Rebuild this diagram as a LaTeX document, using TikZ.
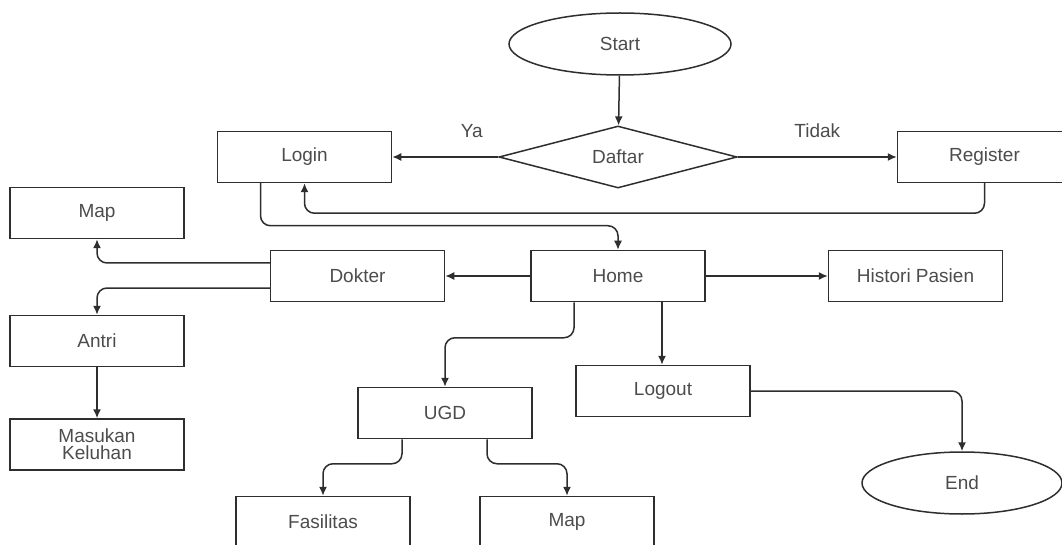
\documentclass[tikz,border=0pt]{standalone}
\usepackage{fontspec}
\setsansfont{Liberation Sans}
\usetikzlibrary{arrows.meta, shapes.geometric, positioning, calc}
\usepackage{xcolor}
\definecolor{LineGray}{rgb}{0.18, 0.18, 0.18}
\definecolor{TextGray}{rgb}{0.3, 0.3, 0.3}

\begin{document}
\begin{tikzpicture}[x=1pt, y=-1pt]\sffamily\fontsize{19}{17}\selectfont
	\tikzstyle{box} = [draw=LineGray, line width=1.5pt, rectangle, minimum width=174pt, minimum height=51pt, text=TextGray, align=center, inner sep=0pt]
	\tikzstyle{term} = [draw=LineGray, line width=1.5pt, ellipse, minimum height=62pt, text=TextGray, inner sep=0pt]
	\tikzstyle{decide} = [draw=LineGray, line width=1.5pt, diamond, aspect=3.8, minimum width=238pt, minimum height=62pt, text=TextGray, inner sep=0pt]
	\tikzstyle{arr} = [-{Latex[length=9pt, width=8pt]}, draw=LineGray, line width=1.5pt, rounded corners=10pt]
	\useasboundingbox (0,0) rectangle (1062,545);
	\clip (0,0) rectangle (1062,545);
	
	\node[term, minimum width=222pt] (start) at (620,44) {Start};
	\node[decide] (daftar) at (618,157) {Daftar};
	\node[box, left=106pt of daftar] (login) {Login};
	\node[box, right=159pt of daftar] (register) {Register};
	\node[box] (home) at (618,276) {Home};
	\node[box, left=85pt of home] (dokter) {Dokter};
	\node[box, right=122pt of home] (histori) {Histori Pasien};
	\node[box] (map) at (97,213) {Map};
	\node[box] (antri) at (97,341) {Antri};
	\node[box, below=51pt of antri] (keluhan) {Masukan\\Keluhan};
	\node[box] (ugd) at (445,413) {UGD};
	\node[box] (logout) at (663,391) {Logout};
	\node[term, minimum width=200pt] (end) at (962,483) {End};
	\node[box] (fasilitas) at (323,522) {Fasilitas};
	\node[box] (mapugd) at (567,522) {Map};
	
	\draw[arr] (start) to (daftar);
	\draw[arr] (daftar) -- node[pos=0.25, above=12pt, text=TextGray] (ya) {Ya} (login);
	\draw[arr] (daftar) -- node[midway, above=12pt, text=TextGray] (tidak) {Tidak} (register);
	\draw[arr] (register.south) |- ([yshift=-30pt]login.south) -- (login.south);
	\draw[arr] ([xshift=-44pt]login.south) |- ([yshift=24pt]home.north) -- (home.north);
	\draw[arr] (home) to (dokter);
	\draw[arr] (home) to (histori);
	\draw[arr] ([yshift=13pt]dokter.west) -| (map.south);
	\draw[arr] ([yshift=-12pt]dokter.west) -| (antri.north);
	\draw[arr] (antri) to (keluhan);
	\draw[arr] ([xshift=-44pt]home.south) |- ([yshift=49pt]ugd.north) -- (ugd.north);
	\draw[arr] ([xshift=44pt]home.south) -- ([xshift=44pt]home.south |- logout.north);
	\draw[arr] (logout.east) -| (end.north);
	\draw[arr] ([xshift=-43pt]ugd.south) |- ([yshift=32pt]fasilitas.north) -- (fasilitas.north);
	\draw[arr] ([xshift=42pt]ugd.south) |- ([yshift=32pt]mapugd.north) -- (mapugd.north);
\end{tikzpicture}
\end{document}
